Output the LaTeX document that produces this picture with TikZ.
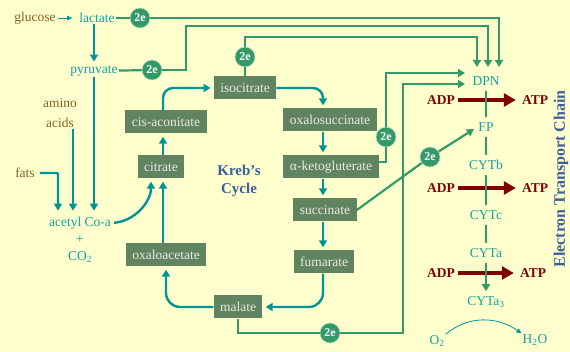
\documentclass[tikz,border=0pt]{standalone}
\usepackage{fontspec}
\setmainfont{Liberation Serif}
\usetikzlibrary{arrows.meta}
\definecolor{bgyellow}{RGB}{255,255,206}
\definecolor{boxgreen}{RGB}{96,132,96}
\definecolor{boxtext}{RGB}{234,234,226}
\definecolor{moltext}{RGB}{20,160,160}
\definecolor{cycteal}{RGB}{0,148,150}
\definecolor{egreen}{RGB}{51,153,102}
\definecolor{srcbrown}{RGB}{128,98,36}
\definecolor{atpred}{RGB}{128,0,0}
\definecolor{titleblue}{RGB}{58,95,154}

\begin{document}
\begin{tikzpicture}[x=1pt,y=-1pt,
  every node/.style={font=\fontsize{13.5}{15}\selectfont},
  cbox/.style={fill=boxgreen,text=boxtext,minimum height=23pt,inner xsep=6.5pt,inner ysep=0pt},
  mol/.style={text=moltext,inner sep=1pt},
  src/.style={text=srcbrown,inner sep=1pt},
  ee/.style={circle,fill=egreen,draw=white!65!egreen,line width=0.6pt,text=white,inner sep=0pt,
    minimum size=20pt,font=\bfseries\fontsize{12}{12}\selectfont},
  cyc/.style={draw=cycteal,line width=2.4pt,shorten >=3pt,-{Triangle[length=7pt,width=8pt]}},
  thinarrow/.style={draw=cycteal,line width=0.8pt,-{Triangle[length=5pt,width=4.5pt]}},
  eline/.style={draw=egreen,line width=2.2pt},
  earrow/.style={eline,-{Triangle[length=7pt,width=8pt]}},
  chainline/.style={eline,shorten <=4pt,shorten >=4pt},
  atpnode/.style={text=atpred,inner sep=1pt,font=\bfseries\fontsize{13.5}{15}\selectfont},
  adparrow/.style={draw=atpred,line width=4pt,shorten <=2pt,shorten >=5pt,-{Triangle[length=12pt,width=13pt]}},
]
\fill[bgyellow] (0,0) rectangle (570,352);
\useasboundingbox (0,0) rectangle (570,352);

% columns of the cycle arrows
\coordinate (lcol) at (163,0);
\coordinate (rcol) at (323,0);

% feeders on the left
\node[src] (glucose) at (35,18) {glucose};
\node[mol] (lactate) at (97,18) {lactate};
\node[mol] (pyruvate) at (94,71) {pyruvate};
\node[src,align=center,font=\fontsize{13.5}{20}\selectfont] (amino) at (60,113) {amino\\acids};
\node[src] (fats) at (25,173) {fats};
\node[mol] (acetyl) at (80,223) {acetyl Co-a};
\node[mol] (plus) at (80,240) {+};
\node[mol] (co2) at (80,257) {CO\textsubscript{2}};

% Kreb's cycle
\node[cbox] (isocit) at (245,88) {isocitrate};
\node[cbox] (oxalosuc) at (330,120) {oxalosuccinate};
\node[cbox] (aketo) at (331,167) {α-ketogluterate};
\node[cbox] (succ) at (325,210) {succinate};
\node[cbox] (fumar) at (324,262) {fumarate};
\node[cbox] (malate) at (238,307) {malate};
\node[cbox] (oxaloac) at (166,255) {oxaloacetate};
\node[cbox] (citrate) at (161,167) {citrate};
\node[cbox] (cisacon) at (166,122) {cis-aconitate};
\node[text=titleblue,align=center,font=\bfseries\fontsize{15}{18}\selectfont] (kreb) at (239,181) {Kreb’s\\Cycle};

% electron pairs
\node[ee] (e1) at (140,18) {2e};
\node[ee] (e2) at (152,70) {2e};
\node[ee] (e3) at (245,57) {2e};
\node[ee] (e4) at (386,137) {2e};
\node[ee] (e5) at (330,333) {2e};
\node[ee] (e6) at (430,157) {2e};

% electron transport chain
\node[mol] (dpn) at (486,81) {DPN};
\node[mol] (fp) at (486,127) {FP};
\node[mol] (cytb) at (486,165) {CYTb};
\node[mol] (cytc) at (486,215) {CYTc};
\node[mol] (cyta) at (486,253) {CYTa};
\node[mol] (cyta3) at (486,302) {CYTa\textsubscript{3}};
\node[mol] (o2) at (437,341) {O\textsubscript{2}};
\node[mol] (h2o) at (535,340) {H\textsubscript{2}O};
\node[atpnode] (adp1) at (441,100) {ADP};
\node[atpnode] (atp1) at (535,100) {ATP};
\node[atpnode] (adp2) at (441,188) {ADP};
\node[atpnode] (atp2) at (535,188) {ATP};
\node[atpnode] (adp3) at (441,273) {ADP};
\node[atpnode] (atp3) at (533,273) {ATP};
\node[rotate=90,text=titleblue,font=\bfseries\fontsize{16}{18}\selectfont] (etc) at (561,179) {Electron Transport Chain};

% entry points at DPN
\coordinate (dpnin1) at (499,67);
\coordinate (dpnin2) at (488,67);
\coordinate (dpnin3) at (477,67);
\coordinate (dpnin4) at (465,73);
\coordinate (dpnin5) at (465,84);

% feeder arrows
\draw[thinarrow,shorten <=1pt,shorten >=6pt] (glucose) -- (lactate);
\draw[cyc] (lactate.south -| pyruvate.north) -- (pyruvate.north);
\draw[cyc,shorten >=5pt] (pyruvate.south) -- (acetyl.north -| pyruvate.south);
\draw[cyc,shorten >=5pt] ([xshift=13pt]amino.south) -- ([xshift=-7pt]acetyl.north);
\draw[cyc,shorten <=4pt,shorten >=5pt,rounded corners=1pt] (fats.east) -| ([xshift=-22pt]acetyl.north);
\draw[cyc,shorten <=2pt] (acetyl.east) to[out=5,in=-90] ([xshift=-10pt]citrate.south);

% the cycle
\draw[cyc] (oxaloac.north -| lcol) -- (citrate.south -| lcol);
\draw[cyc] (citrate.north -| lcol) -- (cisacon.south -| lcol);
\draw[cyc,rounded corners=10pt] (cisacon.north -| lcol) |- (isocit.west);
\draw[cyc,rounded corners=10pt] (isocit.east) -| (oxalosuc.north -| rcol);
\draw[cyc] (oxalosuc.south -| rcol) -- (aketo.north -| rcol);
\draw[cyc] (aketo.south -| rcol) -- (succ.north -| rcol);
\draw[cyc] (succ.south -| rcol) -- (fumar.north -| rcol);
\draw[cyc,rounded corners=14pt] (fumar.south -| rcol) |- (malate.east);
\draw[cyc,rounded corners=14pt] (malate.west) -| (oxaloac.south);

% electrons to the chain
\draw[eline] (lactate) -- (e1);
\draw[earrow] (e1) -| (dpnin1);
\draw[eline] (pyruvate) -- (e2);
\draw[earrow] (e2) -| (186,26) -| (dpnin2);
\draw[eline] (isocit) -- (e3);
\draw[earrow] (e3) -- (e3 |- 0,37) -| (dpnin3);
\draw[eline] ([yshift=5pt]aketo.east) -| (e4);
\draw[earrow] (e4) |- (dpnin4);
\draw[eline] (malate.south) |- (e5);
\draw[earrow] (e5) -| (403,84) -- (dpnin5);
\draw[eline] (succ.east) -- (e6);
\draw[earrow,shorten >=4pt] (e6) -- (fp.west);

% ADP -> ATP
\draw[adparrow] (adp1) -- (atp1);
\draw[adparrow] (adp2) -- (atp2);
\draw[adparrow] (adp3) -- (atp3);

% chain links
\draw[chainline] (dpn) -- (fp);
\draw[chainline] (fp) -- (cytb);
\draw[chainline] (cytb) -- (cytc);
\draw[chainline] (cytc) -- (cyta);
\draw[chainline,-{Triangle[length=7pt,width=8pt]}] (cyta) -- (cyta3);
\draw[thinarrow] (o2.north east) to[out=40,in=145] (h2o.north west);

\end{tikzpicture}
\end{document}
